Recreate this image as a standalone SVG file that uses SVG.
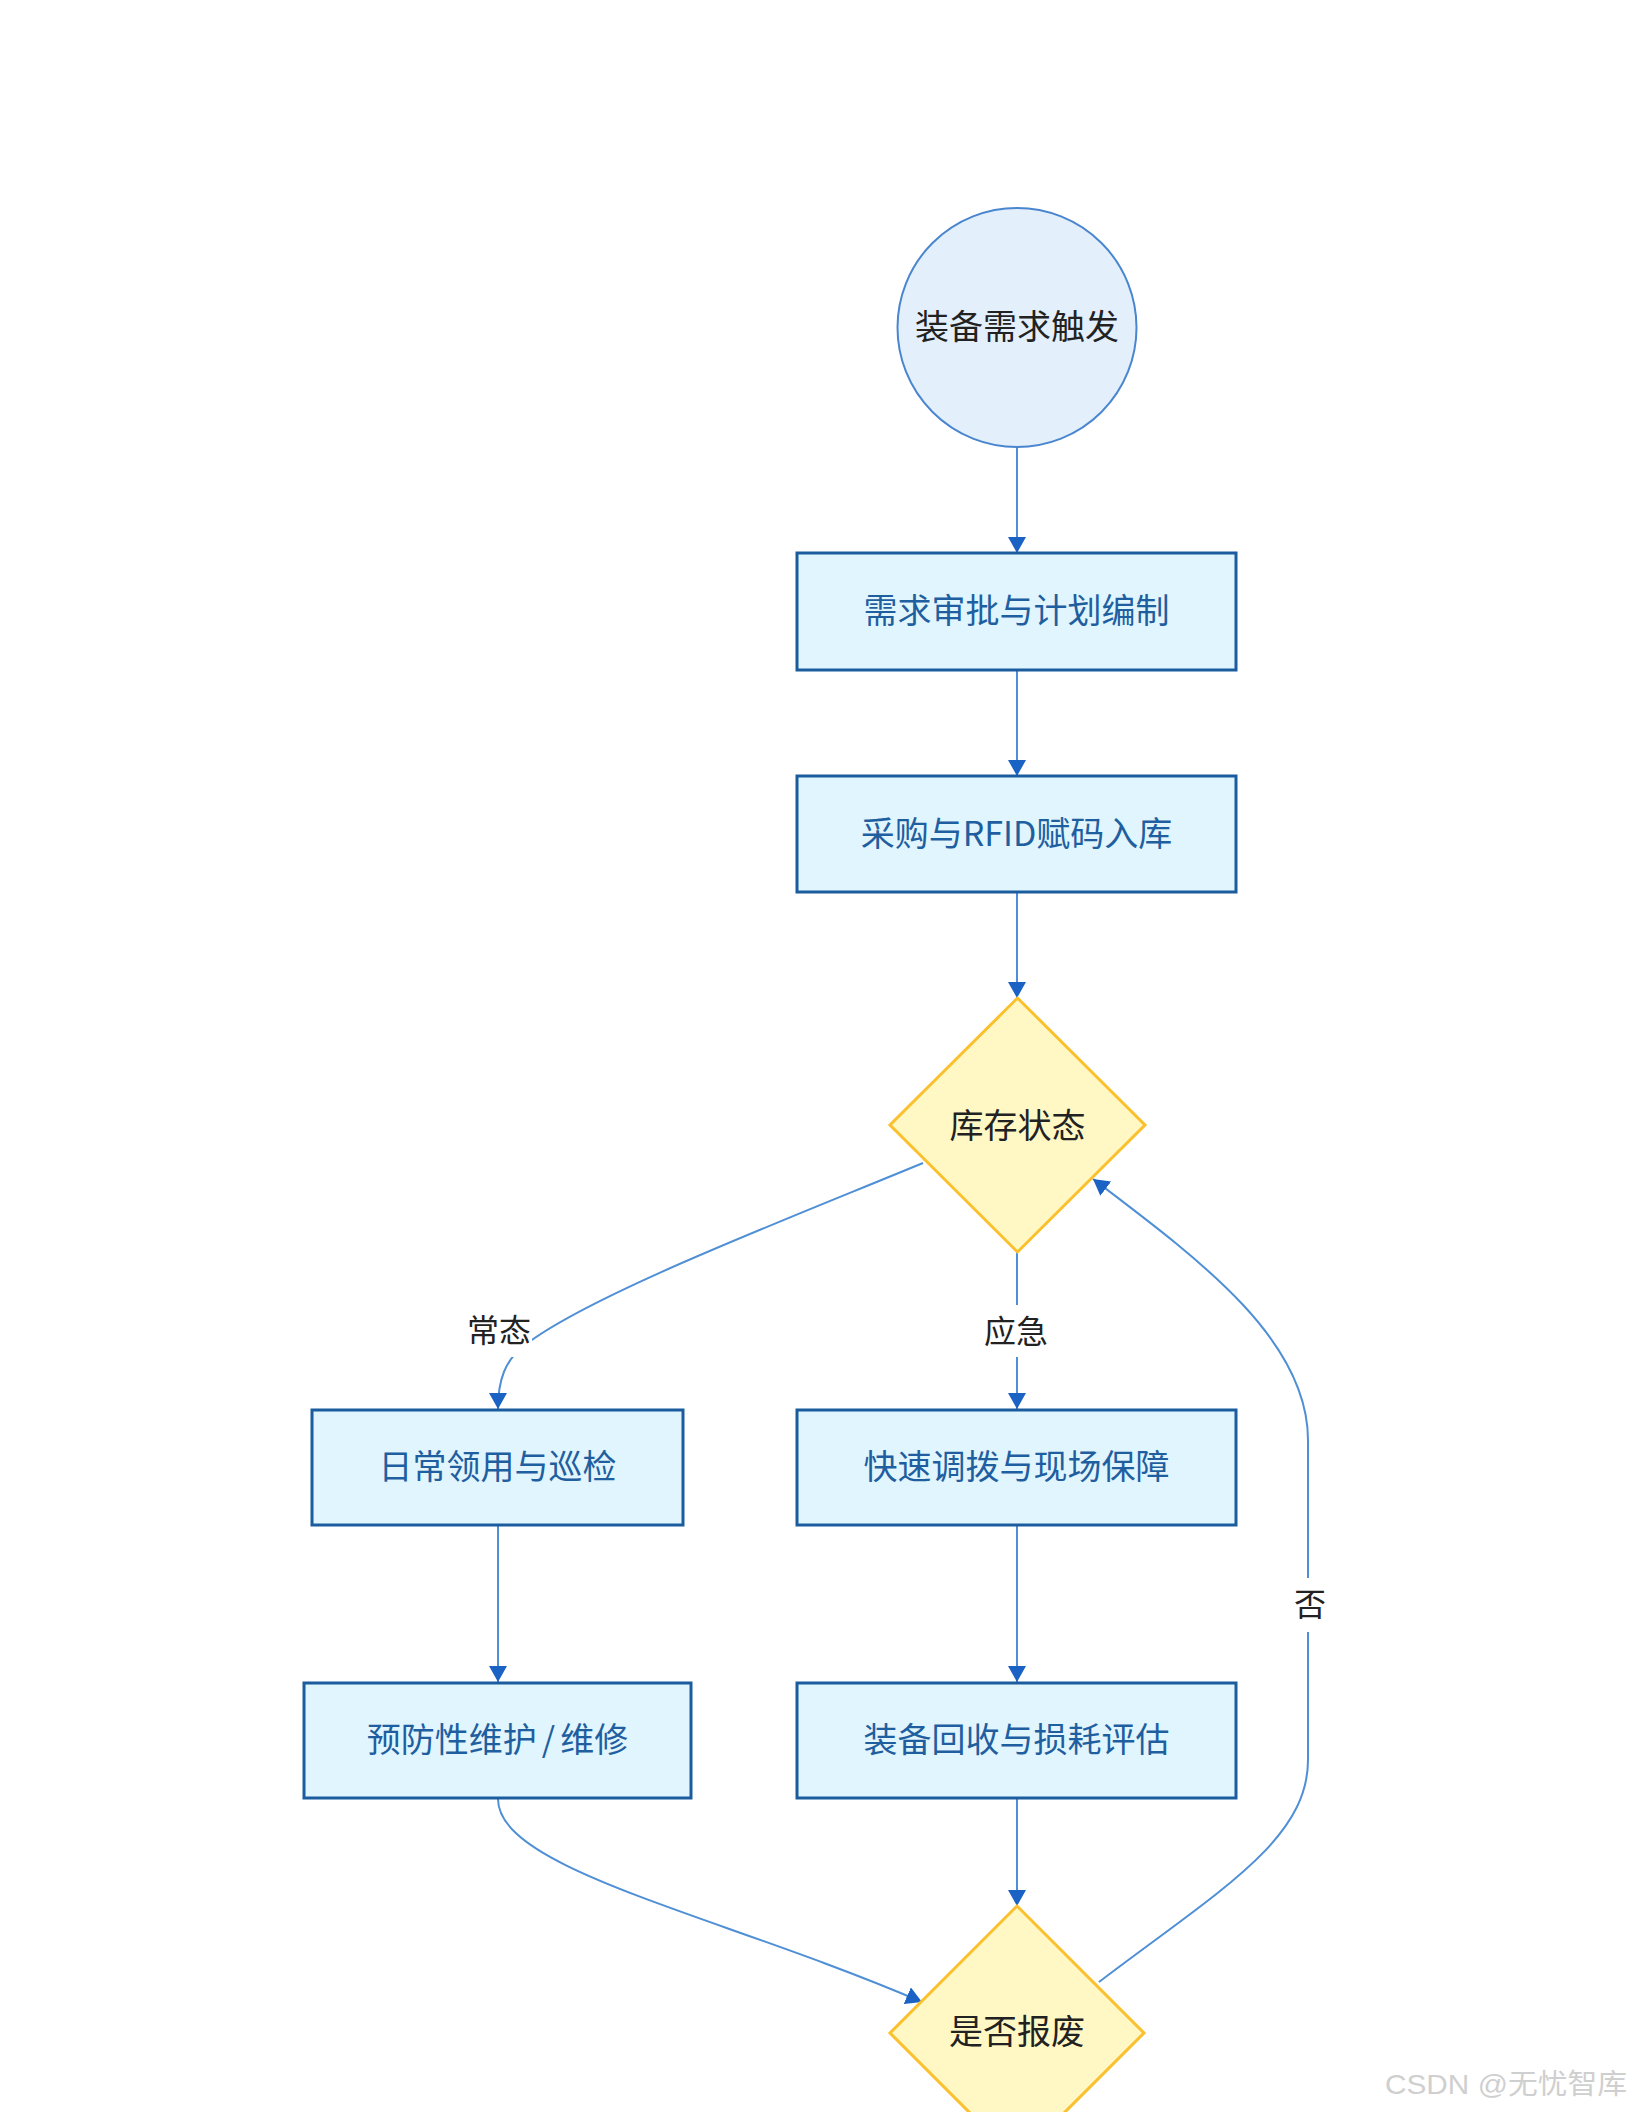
<svg xmlns="http://www.w3.org/2000/svg" width="1632" height="2112" viewBox="0 0 1632 2112">
<style>
.box{fill:#e1f5fe;stroke:#1a5c9e;stroke-width:3}
.circ{fill:#e3f0fc;stroke:#4a86cf;stroke-width:2}
.dia{fill:#fff8c4;stroke:#fbc02d;stroke-width:3}
.bt{font-family:"Noto Sans CJK SC","Noto Sans",sans-serif;font-size:34px;fill:#1f5f9f;text-anchor:middle;dominant-baseline:central}
.nt{font-family:"Noto Sans CJK SC","Noto Sans",sans-serif;font-size:34px;fill:#222;text-anchor:middle;dominant-baseline:central}
.lt{font-family:"Noto Sans CJK SC","Noto Sans",sans-serif;font-size:32px;fill:#222;text-anchor:middle;dominant-baseline:central}
.edge{fill:none;stroke:#4f8fd6;stroke-width:2}
.lbg{fill:#ffffff}
</style>
<defs>
<marker id="arr" markerUnits="userSpaceOnUse" markerWidth="16" markerHeight="18" viewBox="0 0 16 18" refX="16" refY="9" orient="auto">
<path d="M0,0 L16,9 L0,18 z" fill="#1a62c4"/>
</marker>
</defs>
<rect width="1632" height="2112" fill="#ffffff"/>
<g id="connectors">
<path class="edge" d="M1017,448 L1017,553" marker-end="url(#arr)"/>
<path class="edge" d="M1017,670 L1017,776" marker-end="url(#arr)"/>
<path class="edge" d="M1017,892 L1017,998" marker-end="url(#arr)"/>
<path class="edge" d="M1017,1252 L1017,1409" marker-end="url(#arr)"/>
<path class="edge" d="M923,1163 C780,1222 590,1295 525,1345 C505,1360 498,1380 498,1409" marker-end="url(#arr)"/>
<path class="edge" d="M498,1525 L498,1682" marker-end="url(#arr)"/>
<path class="edge" d="M1017,1525 L1017,1682" marker-end="url(#arr)"/>
<path class="edge" d="M1017,1799 L1017,1906" marker-end="url(#arr)"/>
<path class="edge" d="M498,1799 C498,1870 720,1915 922,2002" marker-end="url(#arr)"/>
<path class="edge" d="M1099,1982 C1220,1890 1308,1840 1308,1760 L1308,1440 C1308,1340 1200,1260 1093,1179" marker-end="url(#arr)"/>
<rect class="lbg" x="464" y="1305" width="68" height="52"/>
<text class="lt" x="499" y="1328">常态</text>
<rect class="lbg" x="982" y="1305" width="68" height="52"/>
<text class="lt" x="1016" y="1329">应急</text>
<rect class="lbg" x="1290" y="1578" width="38" height="54"/>
<text class="lt" x="1310" y="1602">否</text>
</g>
<g id="start">
<circle class="circ" cx="1017" cy="327.5" r="119.5"/>
<text class="nt" x="1017" y="324">装备需求触发</text>
</g>
<g id="plan">
<rect class="box" x="797" y="553" width="439" height="117"/>
<text class="bt" x="1016.5" y="608">需求审批与计划编制</text>
</g>
<g id="purchase">
<rect class="box" x="797" y="776" width="439" height="116"/>
<text class="bt" x="1016.5" y="831">采购与RFID赋码入库</text>
</g>
<g id="stock">
<polygon class="dia" points="1017.5,998 1145,1125 1017.5,1252 890,1125"/>
<text class="nt" x="1017.5" y="1123">库存状态</text>
</g>
<g id="daily">
<rect class="box" x="312" y="1410" width="371" height="115"/>
<text class="bt" x="497.5" y="1464">日常领用与巡检</text>
</g>
<g id="emergency">
<rect class="box" x="797" y="1410" width="439" height="115"/>
<text class="bt" x="1016.5" y="1464">快速调拨与现场保障</text>
</g>
<g id="maintain">
<rect class="box" x="304" y="1683" width="387" height="115"/>
<text class="bt" x="497.5" y="1737">预防性维护<tspan dx="5">/</tspan><tspan dx="5">维修</tspan></text>
</g>
<g id="recycle">
<rect class="box" x="797" y="1683" width="439" height="115"/>
<text class="bt" x="1016.5" y="1737">装备回收与损耗评估</text>
</g>
<g id="scrap">
<polygon class="dia" points="1017,1906 1144,2033 1017,2160 890,2033"/>
<text class="nt" x="1017" y="2029">是否报废</text>
</g>
<text x="1385" y="2094" font-family="Liberation Sans,'Noto Sans CJK SC',sans-serif" font-size="28" fill="#cfcfcf" textLength="242" lengthAdjust="spacingAndGlyphs">CSDN @无忧智库</text>
</svg>
